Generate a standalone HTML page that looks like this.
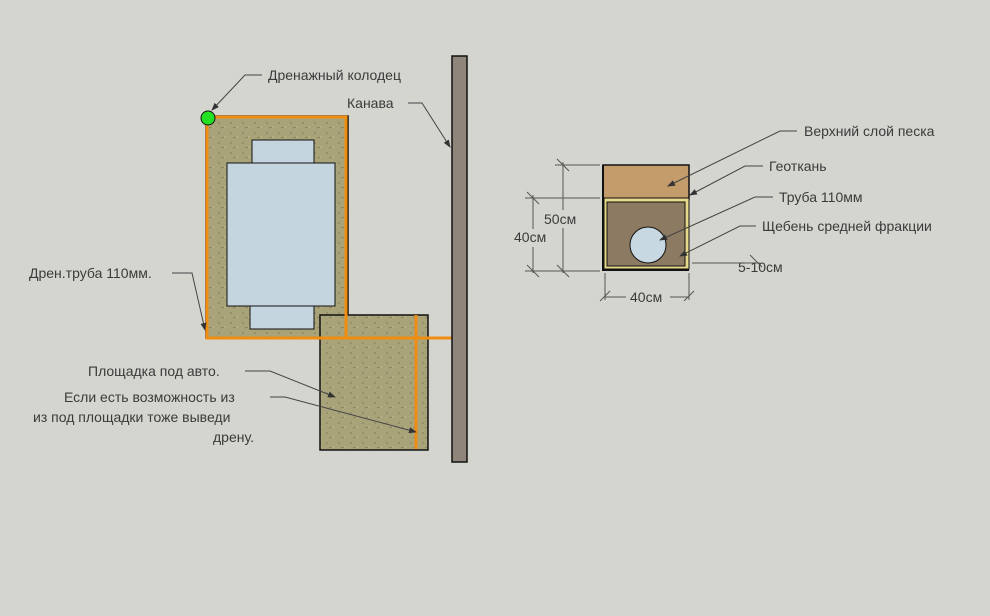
<!DOCTYPE html>
<html><head><meta charset="utf-8"><style>
html,body{margin:0;padding:0;background:#d5d5d0;}
svg{display:block}
text{font-family:"Liberation Sans",sans-serif;font-size:14px;fill:#3a3a3a}
</style></head><body>
<svg width="990" height="616" viewBox="0 0 990 616" xmlns="http://www.w3.org/2000/svg">
<defs>
<pattern id="sand" width="12" height="10" patternUnits="userSpaceOnUse">
<rect width="12" height="10" fill="#a9a37a"/>
<circle cx="3" cy="3" r="0.8" fill="#7f7a58"/><circle cx="9" cy="7" r="0.8" fill="#c2bc90"/>
<path d="M5 8 l3 -1" stroke="#8a7a50" stroke-width="0.8"/>
</pattern>
<marker id="ar" markerWidth="8" markerHeight="6" refX="7" refY="3" orient="auto"><path d="M0 0 L8 3 L0 6z" fill="#333"/></marker>
</defs>
<!-- left lot -->
<rect x="206" y="116" width="142" height="222" fill="url(#sand)" stroke="#111" stroke-width="1.5"/>
<rect x="320" y="315" width="108" height="135" fill="url(#sand)" stroke="#111" stroke-width="1.5"/>
<rect x="252" y="140" width="62" height="24" fill="#c5d5df" stroke="#111"/>
<rect x="227" y="163" width="108" height="143" fill="#c5d5df" stroke="#111"/>
<rect x="250" y="306" width="64" height="23" fill="#c5d5df" stroke="#111"/>
<!-- orange pipes -->
<g stroke="#f08c10" stroke-width="3" fill="none">
<path d="M208 117 H346 V337 M207 118 V338 H453"/>
<path d="M416 315 V449"/>
</g>
<!-- ditch -->
<rect x="452" y="56" width="15" height="406" fill="#8f857a" stroke="#111" stroke-width="1.5"/>
<circle cx="208" cy="118" r="7" fill="#22e022" stroke="#111"/>
<!-- leaders left -->
<g stroke="#444" stroke-width="1" fill="none" marker-end="url(#ar)">
<path d="M262 75 H245 L212 110"/>
<path d="M408 103 H422 L450 147"/>
<path d="M172 273 H192 L205 330"/>
<path d="M245 371 H270 L335 397"/>
<path d="M270 397 H285 L416 432"/>
</g>
<text x="268" y="80">Дренажный колодец</text>
<text x="347" y="108">Канава</text>
<text x="29" y="278">Дрен.труба 110мм.</text>
<text x="88" y="376">Площадка под авто.</text>
<text x="64" y="402">Если есть возможность из</text>
<text x="33" y="422">из под площадки тоже выведи</text>
<text x="213" y="442">дрену.</text>
<!-- section -->
<rect x="603" y="165" width="86" height="34" fill="#c49c6c" stroke="#111" stroke-width="1.5"/>
<rect x="604" y="198" width="85" height="71" fill="#e6d98a" stroke="#111" stroke-width="1"/>
<rect x="607" y="202" width="78" height="64" fill="#8d7a62" stroke="#111"/>
<path d="M603 165 V270 H689" stroke="#111" stroke-width="2" fill="none"/>
<circle cx="648" cy="245" r="18" fill="#c8d8e2" stroke="#111"/>
<!-- dims -->
<g stroke="#555" stroke-width="1" fill="none">
<path d="M555 165 H600 M563 162 V273 M525 198 H600 M533 195 V273 M525 271 H600 M605 273 V300 M689 273 V300 M605 297 H689 M692 263 H760"/>
<path d="M557 159 l12 12 M557 265 l12 12 M527 192 l12 12 M527 265 l12 12 M600 301 l10 -10 M684 301 l10 -10 M750 255 l12 12"/>
</g>
<rect x="540" y="210" width="42" height="18" fill="#d5d5d0"/>
<rect x="512" y="229" width="40" height="18" fill="#d5d5d0"/>
<rect x="626" y="289" width="44" height="16" fill="#d5d5d0"/>
<text x="544" y="224">50см</text>
<text x="514" y="242">40см</text>
<text x="630" y="302">40см</text>
<text x="738" y="272">5-10см</text>
<g stroke="#444" stroke-width="1" fill="none" marker-end="url(#ar)">
<path d="M797 131 H780 L668 186"/>
<path d="M763 166 H745 L690 195"/>
<path d="M773 197 H755 L660 240"/>
<path d="M756 226 H740 L680 256"/>
</g>
<text x="804" y="136">Верхний слой песка</text>
<text x="769" y="171">Геоткань</text>
<text x="779" y="202">Труба 110мм</text>
<text x="762" y="231">Щебень средней фракции</text>
</svg>
</body></html>
